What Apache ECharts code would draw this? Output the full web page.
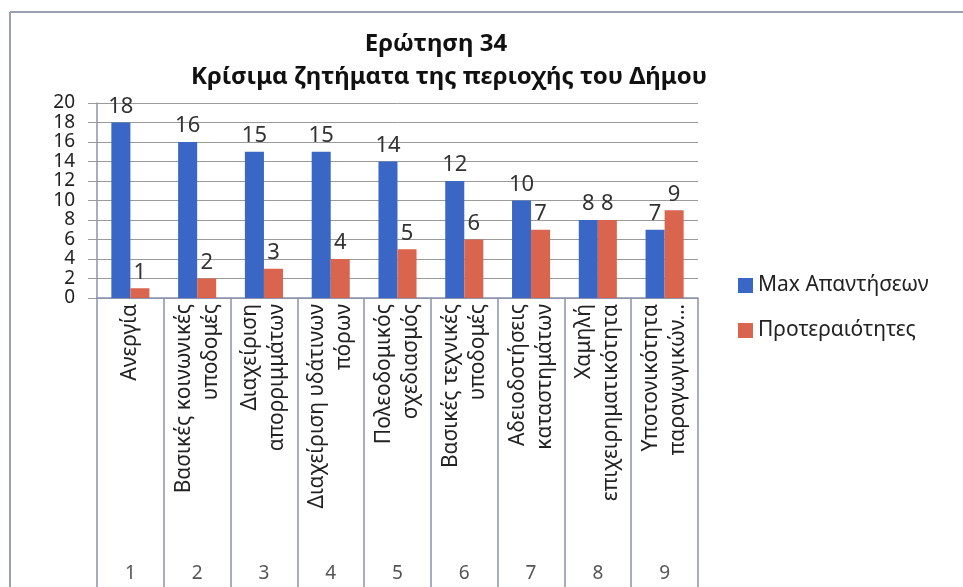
<!DOCTYPE html>
<html>
<head>
<meta charset="utf-8">
<script src="https://cdn.jsdelivr.net/npm/echarts@6/dist/echarts.min.js"></script>
<style>
  html, body { margin: 0; padding: 0; background: #fff; }
  #chart { width: 963px; height: 587px; }
</style>
</head>
<body>
<div id="chart"></div>
<script>
// data
const categories = [
  'Ανεργία',
  'Βασικές κοινωνικές\nυποδομές',
  'Διαχείριση\nαπορριμμάτων',
  'Διαχείριση υδάτινων\nπόρων',
  'Πολεοδομικός\nσχεδιασμός',
  'Βασικές τεχνικές\nυποδομές',
  'Αδειοδοτήσεις\nκαταστημάτων',
  'Χαμηλή\nεπιχειρηματικότητα',
  'Υποτονικότητα\nπαραγωγικών…',
];
const numbers = ['1', '2', '3', '4', '5', '6', '7', '8', '9'];
const maxAnswers = [18, 16, 15, 15, 14, 12, 10, 8, 7];
const priorities = [1, 2, 3, 4, 5, 6, 7, 8, 9];

const FONT = 'Noto Sans';
const AXIS_COLOR = '#8a93ad';
const GRID_COLOR = '#9a9a9a';

const chart = echarts.init(document.getElementById('chart'));

const option = {
  backgroundColor: '#fff',
  textStyle: { fontFamily: FONT },
  title: [
    {
      text: 'Ερώτηση 34',
      left: 431,
      top: 27,
      textAlign: 'center',
      textStyle: { fontSize: 24, fontWeight: 'bold', color: '#111', fontFamily: FONT },
    },
    {
      text: 'Κρίσιμα ζητήματα της περιοχής του Δήμου',
      left: 444,
      top: 60,
      textAlign: 'center',
      textStyle: { fontSize: 24, fontWeight: 'bold', color: '#111', fontFamily: FONT },
    },
  ],
  legend: {
    orient: 'vertical',
    left: 733,
    top: 270,
    icon: 'rect',
    itemWidth: 15,
    itemHeight: 15,
    itemGap: 24,
    textStyle: { fontSize: 21, color: '#222', fontFamily: FONT },
    data: ['Max Απαντήσεων', 'Προτεραιότητες'],
  },
  grid: {
    left: 97,
    right: 265,
    top: 103,
    bottom: 289,
    outerBoundsMode: 'none',
    containLabel: false,
  },
  xAxis: [
    {
      type: 'category',
      data: categories,
      position: 'bottom',
      axisLine: { show: true, lineStyle: { color: AXIS_COLOR, width: 1.5 } },
      axisTick: {
        show: true,
        interval: 0,
        length: 290,
        lineStyle: { color: AXIS_COLOR, width: 1.5 },
      },
      axisLabel: {
        interval: 0,
        rotate: 90,
        margin: 6,
        fontSize: 21,
        lineHeight: 27,
        color: '#222',
        fontFamily: FONT,
      },
    },
    {
      type: 'category',
      data: numbers,
      position: 'bottom',
      offset: 260,
      axisLine: { show: false },
      axisTick: { show: false },
      axisLabel: { interval: 0, margin: 6, fontSize: 19, color: '#555', fontFamily: FONT },
    },
  ],
  yAxis: {
    type: 'value',
    min: 0,
    max: 20,
    interval: 2,
    axisLine: { show: true, lineStyle: { color: AXIS_COLOR, width: 1.5 } },
    axisTick: { show: true, length: 9, lineStyle: { color: GRID_COLOR } },
    axisLabel: {
      fontSize: 19,
      color: '#222',
      margin: 22,
      fontFamily: FONT,
      showMinLabel: true,
      showMaxLabel: true,
    },
    splitLine: { show: true, lineStyle: { color: GRID_COLOR, width: 1 } },
  },
  series: [
    {
      name: 'Max Απαντήσεων',
      type: 'bar',
      xAxisIndex: 0,
      data: maxAnswers,
      barGap: '0%',
      barCategoryGap: '43%',
      itemStyle: { color: '#3a66c6' },
      label: { show: true, position: 'top', distance: 5, fontSize: 22, color: '#333', fontFamily: FONT },
    },
    {
      name: 'Προτεραιότητες',
      type: 'bar',
      xAxisIndex: 0,
      data: priorities,
      barGap: '0%',
      barCategoryGap: '43%',
      itemStyle: { color: '#da654e' },
      label: { show: true, position: 'top', distance: 5, fontSize: 22, color: '#333', fontFamily: FONT },
    },
  ],
  graphic: [
    {
      type: 'line',
      shape: { x1: 10, y1: 12, x2: 963, y2: 12 },
      style: { stroke: '#9aa0b0', lineWidth: 2 },
    },
    {
      type: 'line',
      shape: { x1: 10, y1: 12, x2: 10, y2: 587 },
      style: { stroke: '#9aa0b0', lineWidth: 2 },
    },
  ],
};

chart.setOption(option);
</script>
</body>
</html>
